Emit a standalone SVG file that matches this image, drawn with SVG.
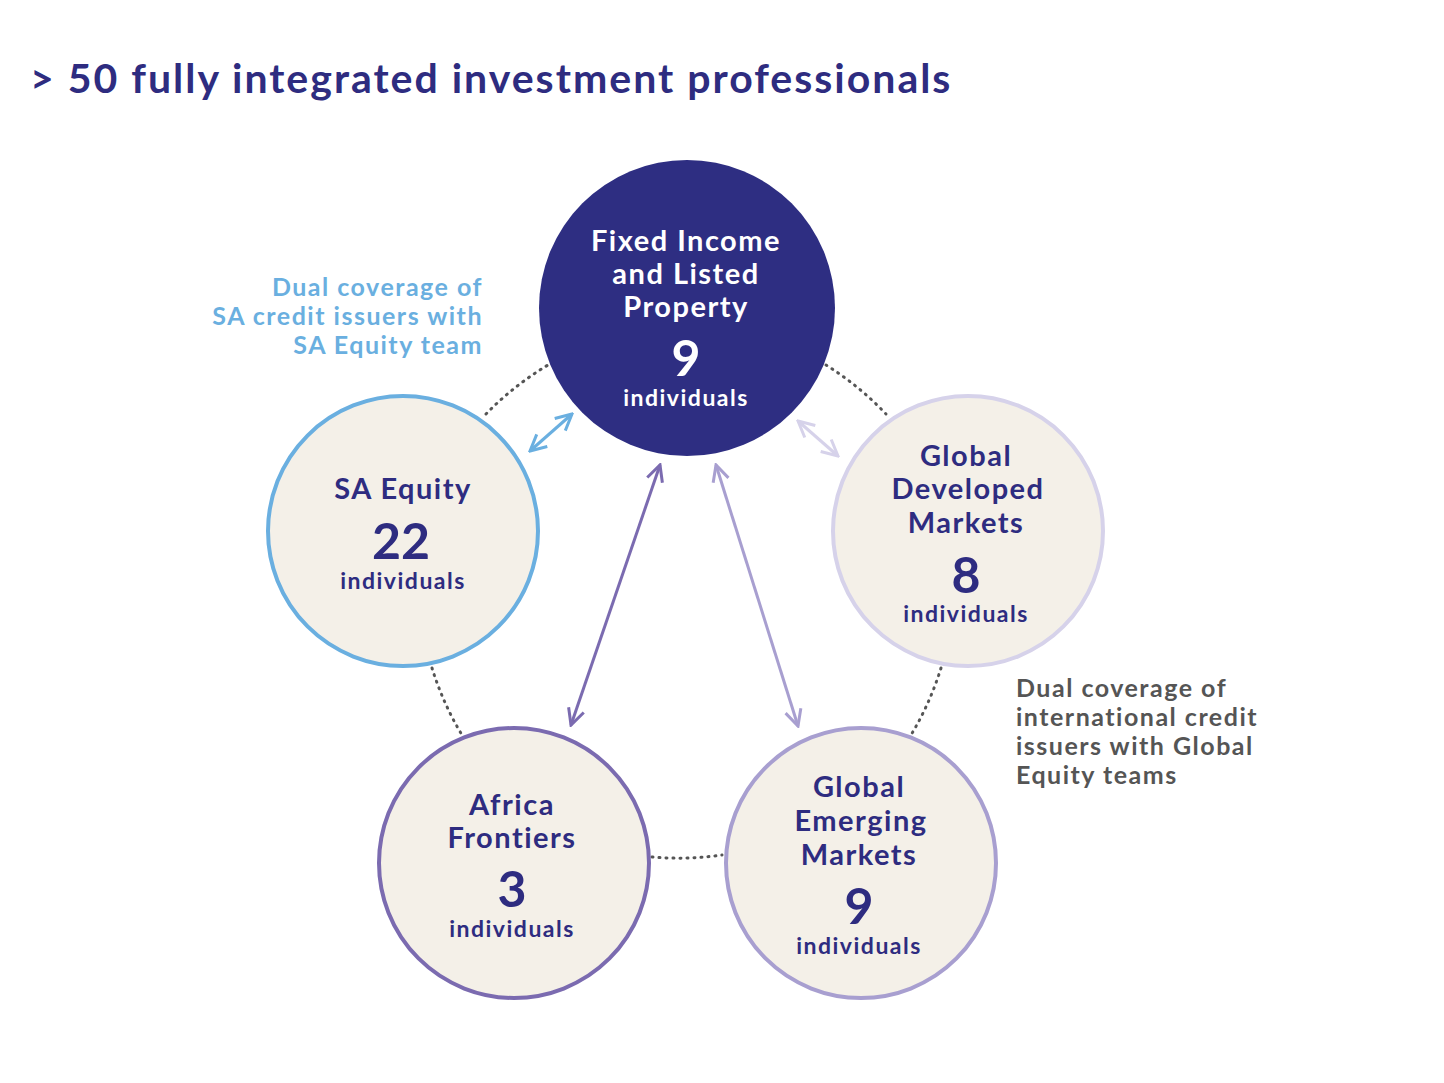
<svg xmlns="http://www.w3.org/2000/svg" width="1444" height="1083" viewBox="0 0 1444 1083">
<style>
text{font-family:Lato,"Open Sans",sans-serif;font-weight:700;text-anchor:middle;letter-spacing:1.5px}
.n{fill:#2E2C80}
.t{font-size:29px}
.big{font-size:50px;letter-spacing:0}
.ind{font-size:23px}
.c{fill:#F4F0E8;stroke-width:4}
.dot{fill:none;stroke:#555;stroke-width:3;stroke-dasharray:1 6;stroke-linecap:round}
</style>
<defs>
<marker id="m1" viewBox="0 0 20 20" refX="18" refY="10" markerWidth="20" markerHeight="20" markerUnits="userSpaceOnUse" orient="auto-start-reverse"><path d="M2 2 L18 10 L2 18" fill="none" stroke="#6AAFE0" stroke-width="3"/></marker>
<marker id="m2" viewBox="0 0 20 20" refX="18" refY="10" markerWidth="20" markerHeight="20" markerUnits="userSpaceOnUse" orient="auto-start-reverse"><path d="M2 2 L18 10 L2 18" fill="none" stroke="#D6D2EA" stroke-width="3"/></marker>
<marker id="m3" viewBox="0 0 20 20" refX="18" refY="10" markerWidth="20" markerHeight="20" markerUnits="userSpaceOnUse" orient="auto-start-reverse"><path d="M2 2 L18 10 L2 18" fill="none" stroke="#7B6BB0" stroke-width="3"/></marker>
<marker id="m4" viewBox="0 0 20 20" refX="18" refY="10" markerWidth="20" markerHeight="20" markerUnits="userSpaceOnUse" orient="auto-start-reverse"><path d="M2 2 L18 10 L2 18" fill="none" stroke="#A89FD0" stroke-width="3"/></marker>
</defs>
<rect width="1444" height="1083" fill="#fff"/>
<text x="30" y="93" class="n" style="font-size:41px;text-anchor:start;letter-spacing:2px">&gt; 50 fully integrated investment professionals</text>
<g id="connectors">
<path class="dot" d="M486 414 A305 305 0 0 1 548 365"/>
<path class="dot" d="M826 365 A305 305 0 0 1 886 414"/>
<path class="dot" d="M432 668 A305 305 0 0 0 462 735"/>
<path class="dot" d="M941 668 A305 305 0 0 1 911 735"/>
<path class="dot" d="M652 857 A305 305 0 0 0 722 855"/>
<line x1="530" y1="451" x2="572" y2="414" stroke="#6AAFE0" stroke-width="3" marker-start="url(#m1)" marker-end="url(#m1)"/>
<line x1="798" y1="421" x2="838" y2="456" stroke="#D6D2EA" stroke-width="3" marker-start="url(#m2)" marker-end="url(#m2)"/>
<line x1="571" y1="725" x2="660" y2="465" stroke="#7B6BB0" stroke-width="3" marker-start="url(#m3)" marker-end="url(#m3)"/>
<line x1="716" y1="465" x2="798" y2="726" stroke="#A89FD0" stroke-width="3" marker-start="url(#m4)" marker-end="url(#m4)"/>
</g>
<g id="fixed-income">
<circle cx="687" cy="308" r="148" fill="#2E2E82"/>
<g fill="#fff"><text x="686" y="251" class="t">Fixed Income</text><text x="686" y="284" class="t">and Listed</text><text x="686" y="317" class="t">Property</text><text x="686" y="376" class="big">9</text><text x="686" y="406" class="ind">individuals</text></g>
</g>
<g id="sa-equity">
<circle cx="403" cy="531" r="135" class="c" stroke="#6AAFE0"/>
<g class="n"><text x="403" y="499" class="t">SA Equity</text><text x="401" y="559" class="big">22</text><text x="403" y="589" class="ind">individuals</text></g>
</g>
<g id="global-developed">
<circle cx="968" cy="531" r="135" class="c" stroke="#D6D2EA"/>
<g class="n"><text x="966" y="466" class="t">Global</text><text x="968" y="499" class="t">Developed</text><text x="966" y="533" class="t">Markets</text><text x="966" y="593" class="big">8</text><text x="966" y="622" class="ind">individuals</text></g>
</g>
<g id="africa">
<circle cx="514" cy="863" r="135" class="c" stroke="#7B6BB0"/>
<g class="n"><text x="512" y="815" class="t">Africa</text><text x="512" y="848" class="t">Frontiers</text><text x="512" y="907" class="big">3</text><text x="512" y="937" class="ind">individuals</text></g>
</g>
<g id="global-emerging">
<circle cx="861" cy="863" r="135" class="c" stroke="#A89FD0"/>
<g class="n"><text x="859" y="797" class="t">Global</text><text x="861" y="831" class="t">Emerging</text><text x="859" y="865" class="t">Markets</text><text x="859" y="924" class="big">9</text><text x="859" y="954" class="ind">individuals</text></g>
</g>
<g id="note-sa" fill="#6AAFE0" style="font-size:25px">
<text x="483" y="296" style="text-anchor:end">Dual coverage of</text>
<text x="483" y="325" style="text-anchor:end">SA credit issuers with</text>
<text x="483" y="354" style="text-anchor:end">SA Equity team</text>
</g>
<g id="note-intl" fill="#555" style="font-size:25px">
<text x="1016" y="697" style="text-anchor:start">Dual coverage of</text>
<text x="1016" y="726" style="text-anchor:start">international credit</text>
<text x="1016" y="755" style="text-anchor:start">issuers with Global</text>
<text x="1016" y="784" style="text-anchor:start">Equity teams</text>
</g>
</svg>
